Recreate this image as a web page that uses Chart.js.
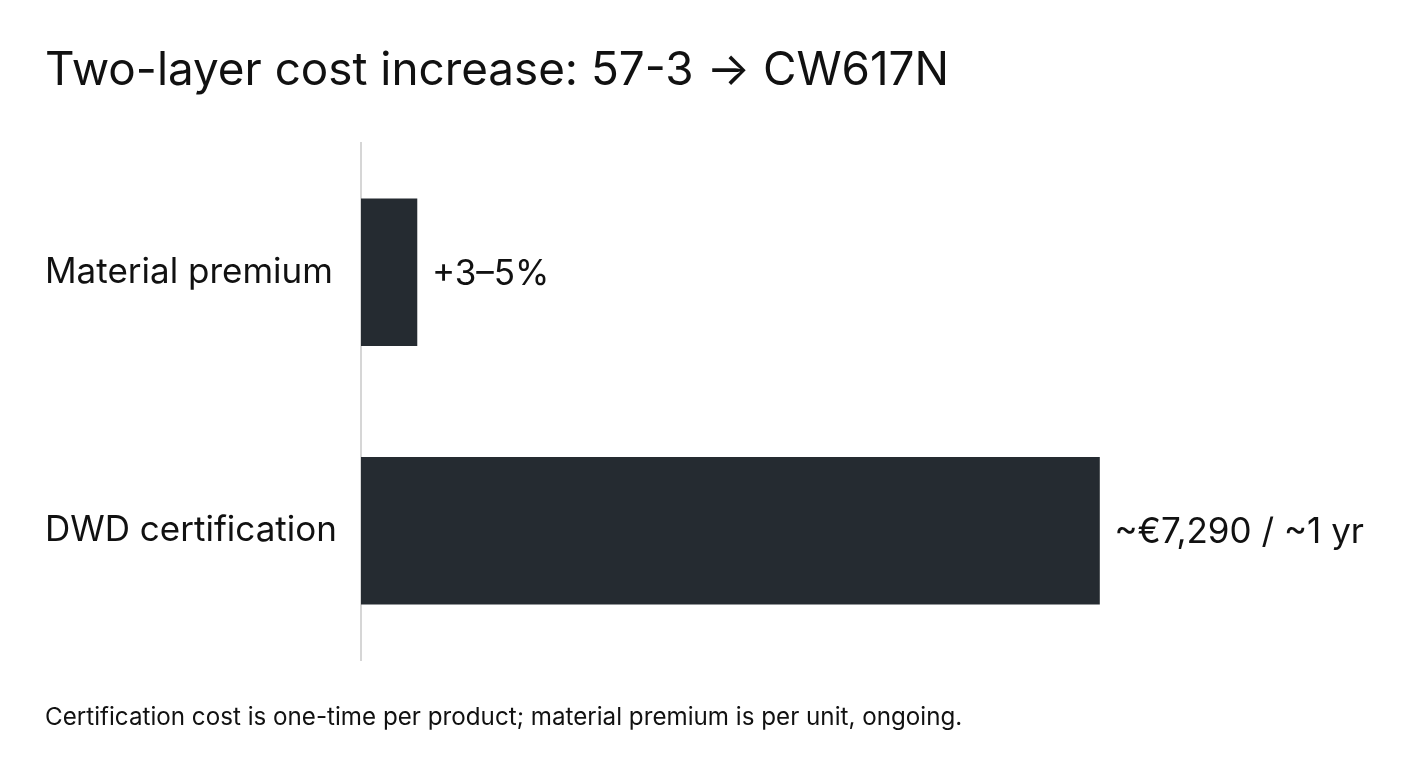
<!DOCTYPE html>
<html>
<head>
<meta charset="utf-8">
<script src="https://cdn.jsdelivr.net/npm/chart.js@4/dist/chart.umd.min.js"></script>
<style>
  html, body { margin: 0; padding: 0; background: #fff; }
  #wrap { position: relative; width: 1408px; height: 768px; }
  canvas { display: block; }
</style>
</head>
<body>
<div id="wrap"><canvas id="c" width="1408" height="768"></canvas></div>
<script>
const titleText = 'Two-layer cost increase: 57-3 \u2192 CW617N';
const footerText = 'Certification cost is one-time per product; material premium is per unit, ongoing.';
const categories = ['Material premium', 'DWD certification'];
const relativeCost = [1.0, 13.2];
const valueLabels = ['+3\u20135%', '~\u20ac7,290 / ~1 yr'];
const axisMax = 18;

const FONT = 'Inter, "Noto Sans", sans-serif';
const INK = '#111111';

const textPlugin = {
  id: 'texts',
  afterDraw(chart) {
    const ctx = chart.ctx;
    ctx.save();
    ctx.fillStyle = INK;
    ctx.textAlign = 'left';
    ctx.textBaseline = 'alphabetic';
    ctx.font = '45.8px ' + FONT;
    ctx.fillText(titleText, 45, 85);
    ctx.font = '24.2px ' + FONT;
    ctx.fillText(footerText, 45, 725);
    // value labels
    ctx.font = '35px ' + FONT;
    ctx.textBaseline = 'middle';
    const meta = chart.getDatasetMeta(0);
    meta.data.forEach((bar, i) => {
      ctx.fillText(valueLabels[i], bar.x + 15, bar.y + 2);
    });
    ctx.restore();
  }
};

new Chart(document.getElementById('c'), {
  type: 'bar',
  data: {
    labels: categories,
    datasets: [{
      data: relativeCost,
      backgroundColor: '#252b31',
      borderWidth: 0,
      barThickness: 147
    }]
  },
  options: {
    indexAxis: 'y',
    responsive: false,
    animation: false,
    layout: { padding: { left: 45, top: 143, bottom: 108, right: 40 } },
    plugins: { legend: { display: false }, tooltip: { enabled: false } },
    scales: {
      x: {
        display: false,
        min: 0,
        max: axisMax
      },
      y: {
        grid: { display: false },
        border: { display: true, color: '#d6d6d6', width: 2 },
        ticks: {
          crossAlign: 'far',
          color: INK,
          font: { family: FONT, size: 35 },
          padding: 0
        },
        afterFit(scale) { scale.width = 316; }
      }
    }
  },
  plugins: [textPlugin]
});
</script>
</body>
</html>
